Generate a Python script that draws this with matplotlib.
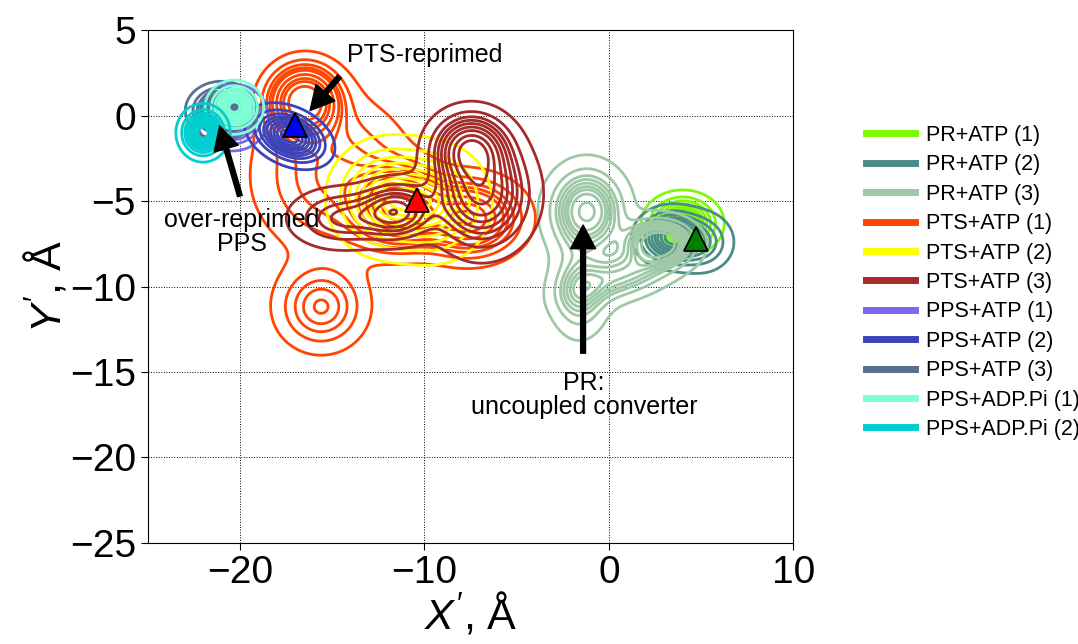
import numpy as np
import matplotlib
matplotlib.use("Agg")
import matplotlib.pyplot as plt
from matplotlib.lines import Line2D

plt.rcParams['font.family'] = ['Liberation Sans', 'DejaVu Sans']
plt.rcParams['mathtext.fontset'] = 'custom'
plt.rcParams['mathtext.it'] = 'Liberation Sans:italic'
plt.rcParams['mathtext.rm'] = 'Liberation Sans'

# density blobs: (x, y, sigma_x, sigma_y, rho, weight)
pr_atp1 = [(4.0, -6.3, 0.92, 0.8, 0, 1.0)]
pr_atp2 = [(3.4, -7.1, 0.9, 0.8, 0, 0.7), (5.0, -7.4, 0.9, 0.9, 0, 0.3)]
pr_atp3 = [(-1.2, -5.6, 1.2, 1.5, 0, 0.4), (2.7, -7.4, 1.1, 0.8, 0, 0.23),
           (0.8, -9.3, 1.8, 1.0, 0.5, 0.21), (-1.6, -10.3, 0.9, 1.5, 0, 0.16)]
pts_atp1 = [(-16.5, 0.8, 1.1, 1.2, 0, 0.2), (-11.4, -5.4, 1.4, 1.3, 0, 0.22),
            (-7.6, -6.0, 1.6, 1.3, 0, 0.2), (-15.6, -11.2, 1.4, 1.45, 0, 0.1),
            (-15.0, -3.5, 2.4, 2.6, 0, 0.26)]
pts_atp2 = [(-12.0, -4.8, 1.5, 1.6, 0, 0.55), (-9.4, -5.1, 1.4, 1.6, 0, 0.45)]
pts_atp3 = [(-7.5, -1.9, 1.2, 1.2, 0, 0.25), (-6.9, -4.6, 1.5, 1.8, 0, 0.47),
            (-11.5, -5.6, 1.2, 1.0, 0, 0.15), (-14.5, -6.0, 1.6, 1.0, 0, 0.13)]
pps_atp1 = [(-20.4, -0.1, 0.8, 0.8, 0, 1.0)]
pps_atp2 = [(-17.3, -1.2, 1.0, 0.8, -0.35, 1.0)]
pps_atp3 = [(-21.0, 0.3, 0.8, 0.7, 0, 1.0)]
pps_adp1 = [(-20.3, 0.5, 0.65, 0.65, 0, 1.0)]
pps_adp2 = [(-22.0, -1.0, 0.6, 0.7, 0, 1.0)]

labels = ['PR+ATP (1)', 'PR+ATP (2)', 'PR+ATP (3)',
          'PTS+ATP (1)', 'PTS+ATP (2)', 'PTS+ATP (3)',
          'PPS+ATP (1)', 'PPS+ATP (2)', 'PPS+ATP (3)',
          'PPS+ADP.Pi (1)', 'PPS+ADP.Pi (2)']
colors = ['#7cfc00', '#4a8c88', '#9ec8a6',
          '#ff4500', '#ffff00', '#a52a2a',
          '#7b68ee', '#3a44b8', '#5a7090',
          '#7fffd4', '#00ced1']
sets = [pr_atp1, pr_atp2, pr_atp3, pts_atp1, pts_atp2, pts_atp3,
        pps_atp1, pps_atp2, pps_atp3, pps_adp1, pps_adp2]

# triangle markers
tri_x = [-17.0, -10.4, 4.7]
tri_y = [-0.55, -4.95, -7.2]
tri_c = ['blue', 'red', 'green']

xx, yy = np.meshgrid(np.linspace(-28, 13, 400), np.linspace(-28, 8, 400))


def density(blobs):
    z = np.zeros_like(xx)
    for mx, my, sx, sy, r, w in blobs:
        dx = (xx - mx) / sx
        dy = (yy - my) / sy
        q = (dx ** 2 - 2 * r * dx * dy + dy ** 2) / (1 - r ** 2)
        z += w / (sx * sy * np.sqrt(1 - r ** 2)) * np.exp(-0.5 * q)
    return z


def iso_levels(z, props):
    # same idea as seaborn's kdeplot: levels hold a share of the mass
    vals = np.sort(z.ravel())[::-1]
    cum = np.cumsum(vals) / vals.sum()
    idx = np.searchsorted(cum, 1 - np.asarray(props))
    return np.sort(np.take(vals, idx, mode='clip'))


fig = plt.figure(figsize=(10.78, 6.44), dpi=100)
ax = fig.add_axes([0.137, 0.157, 0.599, 0.796])

props = np.linspace(0.05, 1, 10)[:-1]
for blobs, c in zip(sets, colors):
    z = density(blobs)
    ax.contour(xx, yy, z, levels=iso_levels(z, props), colors=c, linewidths=2)

for x, y, c in zip(tri_x, tri_y, tri_c):
    ax.plot(x, y, '^', color=c, markersize=17, markeredgecolor='black', markeredgewidth=1.3, zorder=5)

arrow = dict(facecolor='black', edgecolor='black', width=3.5, headwidth=18, headlength=17)
ax.annotate('', xy=(-16.2, 0.3), xytext=(-14.6, 2.3), arrowprops=arrow)
ax.annotate('', xy=(-21.1, -0.6), xytext=(-20.0, -4.7), arrowprops=arrow)
ax.annotate('', xy=(-1.4, -6.4), xytext=(-1.4, -13.9), arrowprops=arrow)
ax.text(-10.0, 3.55, 'PTS-reprimed', fontsize=18, ha='center', va='center')
ax.text(-19.9, -6.8, 'over-reprimed\nPPS', fontsize=18, ha='center', va='center', linespacing=1.0)
ax.text(-1.35, -16.35, 'PR:\nuncoupled converter', fontsize=18, ha='center', va='center', linespacing=1.0)

ax.set_xlim(-25, 10)
ax.set_ylim(-25, 5)
ax.set_xticks([-20, -10, 0, 10])
ax.set_yticks([5, 0, -5, -10, -15, -20, -25])
ax.tick_params(labelsize=28, length=5)
ax.grid(True, color='black', linestyle=':', linewidth=0.7)
ax.set_xlabel(r"$X'$, Å", fontsize=31, labelpad=0)
ax.set_ylabel(r"$Y'$, Å", fontsize=31, labelpad=0)

handles = [Line2D([], [], color=c, lw=5) for c in colors]
fig.legend(handles, labels, loc='upper left', bbox_to_anchor=(0.785, 0.836),
           frameon=False, fontsize=15.5, handlelength=2.3, handletextpad=0.5,
           labelspacing=0.39)

fig.savefig('out.png', dpi=100)
